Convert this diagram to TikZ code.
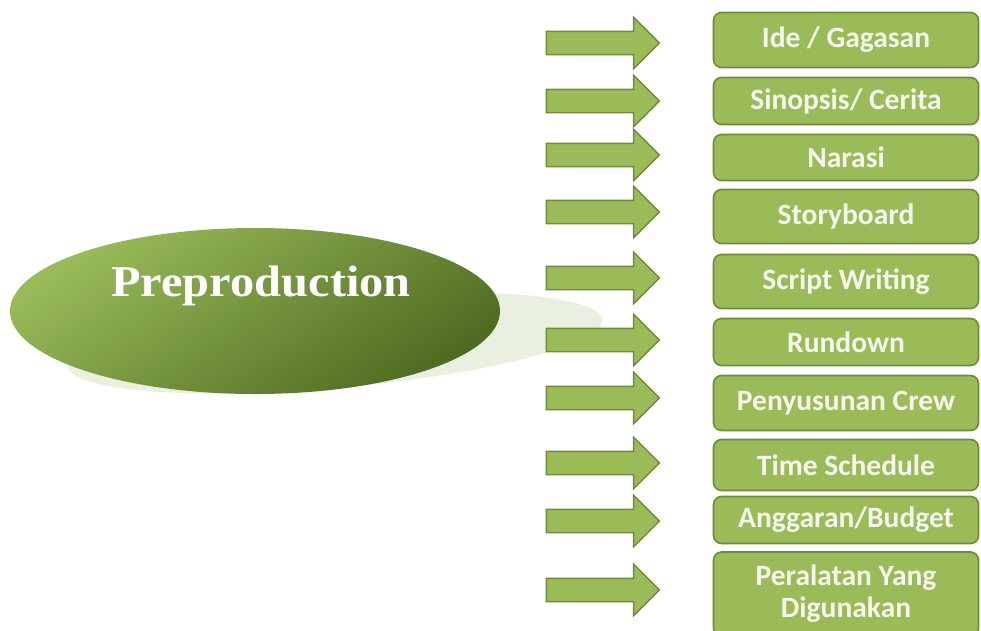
\documentclass[tikz,border=0pt]{standalone}
\usepackage{fontspec}
\usetikzlibrary{shapes.arrows,shapes.geometric}
\newfontfamily\boxfont{Carlito}
\newfontfamily\titlefont{Liberation Serif}
\definecolor{olivefill}{HTML}{9BBB59}
\definecolor{oliveedge}{HTML}{6E8A3A}
\definecolor{olivetext}{HTML}{F4F7EC}
\definecolor{ellight}{HTML}{9ABB5A}
\definecolor{eldark}{HTML}{4F6B22}
\definecolor{shadowgreen}{HTML}{EAF0DF}
\tikzset{
  itembox/.style={draw=oliveedge, line width=1.6pt, fill=olivefill, rounded corners=8pt,
    minimum width=265pt, inner sep=2pt, text=olivetext, align=center,
    font=\boxfont\bfseries\fontsize{29.5}{32}\selectfont},
  blockarrow/.style={single arrow, draw=oliveedge, line width=1.4pt, fill=olivefill,
    minimum height=113pt, minimum width=50pt, single arrow head extend=14pt,
    single arrow tip angle=90, inner xsep=0pt, inner ysep=11pt}
}
\begin{document}
\begin{tikzpicture}[x=1pt,y=-1pt]
\useasboundingbox (0,0) rectangle (981,630);
% shadow of the ellipse
\fill[shadowgreen, rotate around={5:(335,343)}] (335,343) ellipse [x radius=268pt, y radius=45pt];
% main ellipse
\shade[top color=ellight, bottom color=eldark, shading angle=35]
  (255,311) ellipse [x radius=245pt, y radius=83pt];
\node (pre) at (261,286) {\titlefont\bfseries\fontsize{44}{48}\selectfont\color{white!96!olivetext}\scalebox{1.1}[1]{Preproduction}};
% boxes
\node[itembox, minimum height=55pt] (b1) at (846,40) {Ide / Gagasan};
\node[itembox, minimum height=47pt] (b2) at (846,101) {Sinopsis/ Cerita};
\node[itembox, minimum height=46pt] (b3) at (846,157.5) {Narasi};
\node[itembox, minimum height=54pt] (b4) at (846,216.5) {Storyboard};
\node[itembox, minimum height=54pt] (b5) at (846,281.5) {Script Writing};
\node[itembox, minimum height=47pt] (b6) at (846,342) {Rundown};
\node[itembox, minimum height=55pt] (b7) at (846,403) {Penyusunan Crew};
\node[itembox, minimum height=51pt] (b8) at (846,465) {Time Schedule};
\node[itembox, minimum height=47pt] (b9) at (846,520) {Anggaran/Budget};
\node[itembox, minimum height=84pt] (b10) at (846,594) {Peralatan Yang\\Digunakan};
% arrows
\node[blockarrow] (a1) at (597,43) {};
\node[blockarrow] (a2) at (597,101) {};
\node[blockarrow] (a3) at (597,155) {};
\node[blockarrow] (a4) at (597,212) {};
\node[blockarrow] (a5) at (597,278) {};
\node[blockarrow] (a6) at (597,340) {};
\node[blockarrow] (a7) at (597,398) {};
\node[blockarrow] (a8) at (597,463) {};
\node[blockarrow] (a9) at (597,521) {};
\node[blockarrow] (a10) at (597,590) {};
\end{tikzpicture}
\end{document}
